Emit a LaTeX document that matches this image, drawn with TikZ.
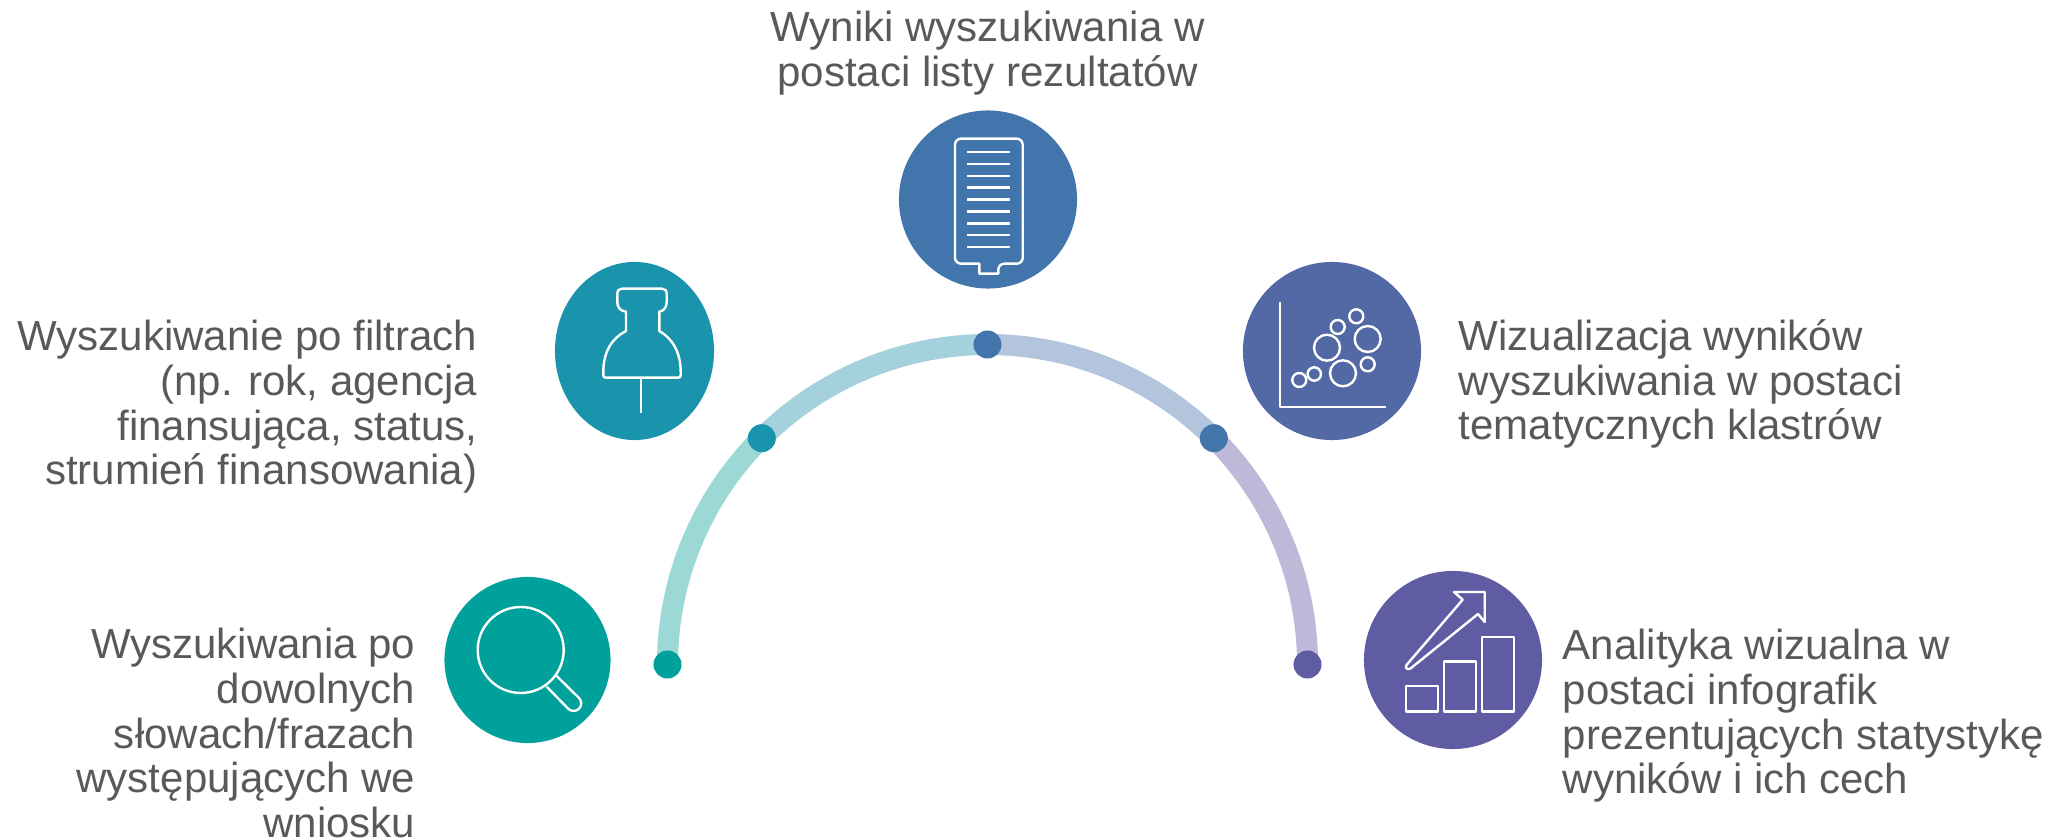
\documentclass[tikz,border=0pt]{standalone}
\usepackage{fontspec}
\setmainfont{Liberation Sans}
\usetikzlibrary{shapes.geometric}
\definecolor{tealDark}{HTML}{00A19B}
\definecolor{tealBlue}{HTML}{1A93AD}
\definecolor{steelBlue}{HTML}{4275AB}
\definecolor{slateBlue}{HTML}{5269A5}
\definecolor{violetBlue}{HTML}{5F5CA3}
\definecolor{textGrey}{HTML}{58595B}
\tikzstyle{bigCircle}=[shape = circle, inner sep = 0pt, minimum size = 1.78cm]
\tikzstyle{smallDot}=[shape = circle, inner sep = 0pt, minimum size = 0.28cm]
\tikzstyle{iconLine}=[draw = white, line width = 0.024cm, line join = round]
\tikzstyle{bandArc}=[line width = 0.21cm]
\tikzstyle{labelText}=[inner sep = 0pt, text = textGrey, font = \fontsize{11.95}{12.7}\selectfont]

\begin{document}
\begin{tikzpicture}[x = 0.01cm, y = -0.01cm]
\useasboundingbox (0,0) rectangle (2062,840);
% points on the band
\coordinate (p0) at (667.5,664.5);
\coordinate (p1) at (761.8,438.2);
\coordinate (p2) at (987.5,344.5);
\coordinate (p3) at (1213.8,438.2);
\coordinate (p4) at (1307.5,664.5);
\draw[bandArc, color = {rgb,255:red,156;green,217;blue,214}] (p0) arc[start angle = 180, end angle = 225, radius = 320];
\draw[bandArc, color = {rgb,255:red,165;green,209;blue,220}] (p1) arc[start angle = 225, end angle = 270, radius = 320];
\draw[bandArc, color = {rgb,255:red,178;green,197;blue,220}] (p2) arc[start angle = 270, end angle = 315, radius = 320];
\draw[bandArc, color = {rgb,255:red,192;green,184;blue,217}] (p3) arc[start angle = 315, end angle = 360, radius = 320];
\node[smallDot, fill = tealDark] (v0) at (p0) {};
\node[smallDot, fill = tealBlue] (v1) at (p1) {};
\node[smallDot, fill = steelBlue] (v2) at (p2) {};
\node[smallDot, fill = steelBlue] (v3) at (p3) {};
\node[smallDot, fill = violetBlue] (v4) at (p4) {};
% discs
\node[bigCircle, fill = tealDark, minimum size = 1.66cm] (searchDisc) at (527.5,660) {};
\node[shape = ellipse, inner sep = 0pt, fill = tealBlue, minimum width = 1.59cm, minimum height = 1.78cm] (pinDisc) at (634.5,351) {};
\node[bigCircle, fill = steelBlue] (listDisc) at (988,199.5) {};
\node[bigCircle, fill = slateBlue] (bubbleDisc) at (1332,351) {};
\node[bigCircle, fill = violetBlue] (chartDisc) at (1453,660) {};
% magnifier
\draw[iconLine] (520.7,650) circle[radius = 43];
\draw[iconLine] (556.7,676) -- (579,698) arc[start angle = -45, end angle = 135, radius = 7.6] -- (546.7,686.7);
% pin
\draw[iconLine] (626,311.7) .. controls (620,311) and (617.3,307) .. (617.3,302) -- (617.3,294)
  .. controls (617.3,290.5) and (619,288.7) .. (622,288.7) -- (662,288.7)
  .. controls (665,288.7) and (666.7,290.5) .. (666.7,294) -- (666.7,302)
  .. controls (666.7,307) and (664,311) .. (659.3,311.7) -- (659.3,331)
  .. controls (672,338) and (680.7,352) .. (680.7,372) -- (680.7,375)
  .. controls (680.7,377) and (680,377.7) .. (678,377.7) -- (606,377.7)
  .. controls (604,377.7) and (603.3,377) .. (603.3,375) -- (603.3,372)
  .. controls (603.3,352) and (612,338) .. (626,331) -- cycle;
\draw[iconLine] (641,377.7) -- (641,413.3);
% list
\draw[iconLine, rounded corners = 0.06cm] (979.3,263.7) -- (955,263.7) -- (955,138.7) -- (1022.7,138.7) -- (1022.7,263.7) -- (998.3,263.7) [sharp corners] -- (998.3,273.7) -- (979.3,273.7) -- cycle;
\foreach \i in {0,...,8}
  \draw[iconLine] (967.3,152+11.9*\i) -- (1010.3,152+11.9*\i);
% bubbles
\draw[iconLine] (1280,301.7) -- (1280,407.3) -- (1385.7,407.3);
\foreach \x/\y/\r in {1299.3/380/7, 1314.3/374/6.7, 1327/347.7/13, 1343/373.3/13, 1337.7/327/7, 1356.3/316.3/7, 1367.7/339/13, 1367.7/364.3/7}
  \draw[iconLine] (\x,\y) circle[radius = \r];
% chart
\draw[iconLine] (1406,686.3) rectangle (1438,711.7);
\draw[iconLine] (1444,661.7) rectangle (1475.7,711.7);
\draw[iconLine] (1482,637.3) rectangle (1513.7,711.7);
\draw[iconLine] (1484.7,592) -- (1454,592) -- (1462.7,599.7) -- (1406.5,665)
  .. controls (1404.5,668.5) and (1408,670) .. (1410.5,668.5) -- (1478,614) -- (1484.7,622) -- cycle;
% labels
\node[labelText, align = center] (listText) at (987.5,53) {Wyniki wyszukiwania w\\postaci listy rezultatów};
\node[labelText, align = right, anchor = east] (pinText) at (478,407) {Wyszukiwanie po filtrach\\(np. rok, agencja\\finansująca, status,\\strumień finansowania)};
\node[labelText, align = right, anchor = east] (searchText) at (416,733) {Wyszukiwania po\\dowolnych\\słowach/frazach\\występujących we\\wniosku};
\node[labelText, align = left, anchor = west] (bubbleText) at (1458,384) {Wizualizacja wyników\\wyszukiwania w postaci\\tematycznych klastrów};
\node[labelText, align = left, anchor = west] (chartText) at (1562,716) {Analityka wizualna w\\postaci infografik\\prezentujących statystykę\\wyników i ich cech};
\end{tikzpicture}
\end{document}
